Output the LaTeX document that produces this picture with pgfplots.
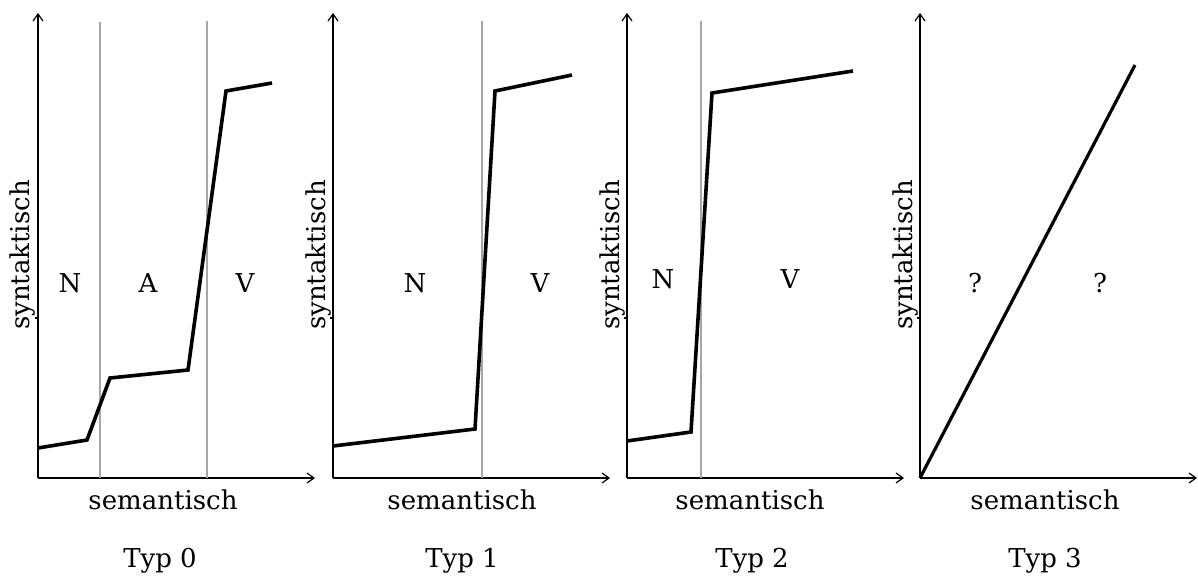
\documentclass[border=0pt]{standalone}
\usepackage{fontspec}
\setmainfont{DejaVu Serif}
\usepackage{pgfplots}
\pgfplotsset{compat=1.18}
\usetikzlibrary{arrows.meta}
\pgfplotsset{
  panel/.style={
    scale only axis, width=277pt, height=465pt,
    xmin=0, xmax=277, ymin=0, ymax=465,
    axis lines=left,
    axis line style={line width=1.8pt, -{Straight Barb[length=7pt,width=10pt,line width=1.2pt]}},
    xtick=\empty, ytick={160}, yticklabels={},
    tick align=outside, major tick length=3pt,
    tick style={line width=2pt, black},
    clip=false, anchor=south west,
  },
  curve/.style={black, line width=3.6pt, line join=miter, no marks},
  sep/.style={gray!70, line width=1.7pt, no marks},
}
\begin{document}
\begin{tikzpicture}[font=\fontsize{26}{30}\selectfont]
\useasboundingbox (0,0) rectangle (1198pt,-583pt);
% Typ 0
\begin{axis}[panel, at={(38pt,-478pt)}]
\addplot[sep] coordinates {(62,0) (62,456)};
\addplot[sep] coordinates {(169,0) (169,457)};
\addplot[curve] coordinates {(0,30) (49,38) (72,100) (150,108) (188,387) (234,395)};
\node[anchor=base] at (axis cs:32,186) {N};
\node[anchor=base] at (axis cs:110,186) {A};
\node[anchor=base] at (axis cs:207,186) {V};
\node[rotate=90, anchor=base] at (axis cs:-8,223) {syntaktisch};
\node[anchor=base] at (axis cs:125,-31) {semantisch};
\node[anchor=base] at (axis cs:122,-89) {Typ 0};
\end{axis}
% Typ 1
\begin{axis}[panel, at={(333pt,-478pt)}]
\addplot[sep] coordinates {(149,0) (149,457)};
\addplot[curve] coordinates {(0,32) (142,49) (162,387) (239,403)};
\node[anchor=base] at (axis cs:82,186) {N};
\node[anchor=base] at (axis cs:207,186) {V};
\node[rotate=90, anchor=base] at (axis cs:-8,223) {syntaktisch};
\node[anchor=base] at (axis cs:129,-31) {semantisch};
\node[anchor=base] at (axis cs:129,-89) {Typ 1};
\end{axis}
% Typ 2
\begin{axis}[panel, at={(627pt,-478pt)}]
\addplot[sep] coordinates {(74,0) (74,457)};
\addplot[curve] coordinates {(0,37) (64,46) (85,385) (226,407)};
\node[anchor=base] at (axis cs:36,190) {N};
\node[anchor=base] at (axis cs:163,190) {V};
\node[rotate=90, anchor=base] at (axis cs:-8,223) {syntaktisch};
\node[anchor=base] at (axis cs:123,-31) {semantisch};
\node[anchor=base] at (axis cs:125,-89) {Typ 2};
\end{axis}
% Typ 3
\begin{axis}[panel, at={(920pt,-478pt)}]
\addplot[curve, line width=3.2pt] coordinates {(0,0) (215,413)};
\node[anchor=base] at (axis cs:55,186) {?};
\node[anchor=base] at (axis cs:180,186) {?};
\node[rotate=90, anchor=base] at (axis cs:-8,223) {syntaktisch};
\node[anchor=base] at (axis cs:125,-31) {semantisch};
\node[anchor=base] at (axis cs:125,-89) {Typ 3};
\end{axis}
\end{tikzpicture}
\end{document}
